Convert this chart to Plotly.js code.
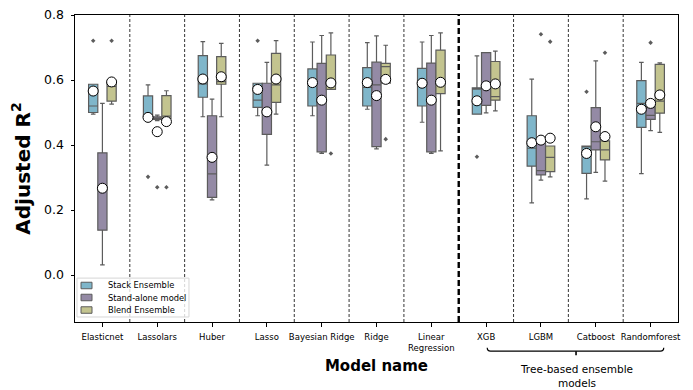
<!DOCTYPE html>
<html>
<head>
<meta charset="utf-8">
<script src="https://cdn.plot.ly/plotly-3.0.1.min.js"></script>
<style>html,body{margin:0;padding:0;background:#fff;}#chart{width:693px;height:390px;}</style>
</head>
<body>
<div id="chart"></div>
<script>
// ---- Data ----
const models = ["Elasticnet","Lassolars","Huber","Lasso","Bayesian Ridge","Ridge","Linear<br>Regression","XGB","LGBM","Catboost","Randomforest"];
const groupNames = ["Stack Ensemble","Stand-alone model","Blend Ensemble"];

const stackQ1     = [0.500,0.487,0.547,0.516,0.520,0.520,0.520,0.495,0.335,0.313,0.454];
const stackMedian = [0.520,0.494,0.588,0.538,0.590,0.577,0.590,0.572,0.390,0.395,0.528];
const stackQ3     = [0.587,0.551,0.675,0.590,0.634,0.638,0.636,0.576,0.490,0.397,0.598];
const stackLow    = [0.495,0.487,0.487,0.490,0.490,0.510,0.470,0.495,0.222,0.234,0.312];
const stackHigh   = [0.587,0.585,0.718,0.590,0.717,0.715,0.717,0.674,0.603,0.397,0.654];
const stackMean   = [0.566,0.485,0.603,0.571,0.592,0.592,0.590,0.536,0.407,0.374,0.510];
const stackOut    = [[0.721],[0.302],[],[0.721],[],[],[],[0.364],[],[0.564],[]];

const aloneQ1     = [0.138,0.479,0.239,0.433,0.379,0.395,0.379,0.522,0.308,0.385,0.479];
const aloneMedian = [0.259,0.483,0.311,0.505,0.540,0.585,0.540,0.580,0.321,0.410,0.491];
const aloneQ3     = [0.376,0.487,0.490,0.590,0.651,0.655,0.652,0.684,0.405,0.515,0.515];
const aloneLow    = [0.031,0.475,0.231,0.338,0.374,0.388,0.374,0.499,0.292,0.316,0.444];
const aloneHigh   = [0.528,0.492,0.541,0.654,0.737,0.736,0.737,0.684,0.405,0.659,0.515];
const aloneMean   = [0.267,0.441,0.362,0.502,0.538,0.552,0.538,0.582,0.415,0.456,0.528];
const aloneOut    = [[],[0.270],[],[],[],[],[],[],[0.741],[],[0.715]];

const blendQ1     = [0.535,0.482,0.587,0.531,0.571,0.590,0.558,0.538,0.318,0.354,0.498];
const blendMedian = [0.580,0.489,0.595,0.585,0.585,0.641,0.590,0.549,0.362,0.385,0.535];
const blendQ3     = [0.592,0.552,0.672,0.682,0.677,0.651,0.692,0.657,0.397,0.413,0.648];
const blendLow    = [0.526,0.482,0.487,0.495,0.571,0.590,0.382,0.505,0.302,0.289,0.439];
const blendHigh   = [0.592,0.567,0.713,0.721,0.745,0.707,0.745,0.689,0.397,0.413,0.653];
const blendMean   = [0.594,0.472,0.610,0.603,0.591,0.602,0.593,0.588,0.421,0.426,0.554];
const blendOut    = [[0.721],[0.270],[],[],[0.374],[0.418],[],[],[0.718],[0.684],[]];

// ---- Styling ----
const fills = ["#7fb6ca","#948aa5","#c3c48f"];
const edge = "#5c5c5c";
const boxW = 0.168;
const offsets = [-boxW, 0, boxW];
const FONT = "DejaVu Sans, Liberation Sans, sans-serif";

const groups = [
  {q1:stackQ1, med:stackMedian, q3:stackQ3, lo:stackLow, hi:stackHigh, mean:stackMean, out:stackOut},
  {q1:aloneQ1, med:aloneMedian, q3:aloneQ3, lo:aloneLow, hi:aloneHigh, mean:aloneMean, out:aloneOut},
  {q1:blendQ1, med:blendMedian, q3:blendQ3, lo:blendLow, hi:blendHigh, mean:blendMean, out:blendOut}
];

const traces = [];
groups.forEach((g, gi) => {
  const xs = models.map((m, i) => i + offsets[gi]);
  traces.push({
    type: "box", name: groupNames[gi], x: xs,
    q1: g.q1, median: g.med, q3: g.q3, lowerfence: g.lo, upperfence: g.hi,
    width: boxW, whiskerwidth: 0.5,
    fillcolor: fills[gi], line: {color: edge, width: 1.2},
    boxpoints: false, hoverinfo: "skip", showlegend: false
  });
});
groups.forEach((g, gi) => {
  const ox = [], oy = [];
  g.out.forEach((arr, i) => arr.forEach(v => { ox.push(i + offsets[gi]); oy.push(v); }));
  traces.push({
    type: "scatter", mode: "markers", x: ox, y: oy, showlegend: false, hoverinfo: "skip",
    marker: {symbol: "diamond", size: 3.5, color: edge}
  });
});
groups.forEach((g, gi) => {
  traces.push({
    type: "scatter", mode: "markers", x: models.map((m, i) => i + offsets[gi]), y: g.mean,
    showlegend: false, hoverinfo: "skip",
    marker: {symbol: "circle", size: 10, color: "white", line: {color: "black", width: 1}}
  });
});

// separators between categories
const shapes = [];
for (let i = 0; i < models.length - 1; i++) {
  const thick = (i === 6);
  shapes.push({type: "line", xref: "x", yref: "paper", x0: i + 0.5, x1: i + 0.5, y0: 0, y1: 1,
    line: {color: "black", width: thick ? 2.4 : 0.8, dash: thick ? "6px,3px" : "3px,2px"}, layer: "below"});
}
// bracket under tree-based models
const bx0 = 7.02, bx1 = 10.24, bc = 8.64;
shapes.push({type: "path", xref: "x", yref: "paper",
  path: `M ${bx0},-0.084 Q ${bx0},-0.095 ${bx0+0.06},-0.095 L ${bx1-0.06},-0.095 Q ${bx1},-0.095 ${bx1},-0.084`,
  line: {color: "black", width: 1.2}});
shapes.push({type: "line", xref: "x", yref: "paper", x0: bc, x1: bc, y0: -0.095, y1: -0.108,
  line: {color: "black", width: 1.6}});

// hand-drawn legend (matplotlib-style compact legend)
const annotations = [];
shapes.push({type: "rect", xref: "paper", yref: "paper", x0: 0.0033, x1: 0.189, y0: 0.0163, y1: 0.143,
  fillcolor: "rgba(255,255,255,0.8)", line: {color: "#d6d6d6", width: 1}, layer: "above"});
const rowY = [0.1189, 0.0798, 0.039];
groupNames.forEach((name, gi) => {
  shapes.push({type: "rect", xref: "paper", yref: "paper", x0: 0.0100, x1: 0.0282,
    y0: rowY[gi] - 0.0106, y1: rowY[gi] + 0.0106,
    fillcolor: fills[gi], line: {color: edge, width: 1}, layer: "above"});
  annotations.push({xref: "paper", yref: "paper", x: 0.052, y: rowY[gi], xanchor: "left", yanchor: "middle",
    text: name, showarrow: false, font: {size: 8.3, family: FONT}});
});
annotations.push({
  xref: "x", yref: "paper", x: bc, y: -0.127, xanchor: "center", yanchor: "top",
  text: "Tree-based ensemble<br>models", showarrow: false, font: {size: 10.5, family: FONT}
});

const layout = {
  width: 693, height: 390,
  margin: {l: 75, r: 15, t: 15, b: 68},
  paper_bgcolor: "white", plot_bgcolor: "white",
  font: {family: FONT, color: "black"},
  showlegend: false,
  xaxis: {
    range: [-0.5, 10.5], tickmode: "array", tickvals: models.map((m, i) => i), ticktext: models,
    tickfont: {size: 8.5, family: FONT}, ticks: "outside", ticklen: 3.5, tickcolor: "black",
    ticklabelstandoff: 3,
    showline: true, mirror: true, linecolor: "black", linewidth: 1, showgrid: false, zeroline: false,
    automargin: false,
    title: {text: "<b>Model name</b>", font: {size: 15, family: FONT}, standoff: 8}
  },
  yaxis: {
    range: [-0.1446, 0.8], tick0: 0, dtick: 0.2, tickformat: ".1f",
    tickfont: {size: 12.5, family: FONT}, ticks: "outside", ticklen: 3.5, tickcolor: "black",
    ticklabelstandoff: 4,
    showline: true, mirror: true, linecolor: "black", linewidth: 1, showgrid: false, zeroline: false,
    automargin: false,
    title: {text: "<b>Adjusted R<sup>2</sup></b>", font: {size: 20, family: FONT}, standoff: 8}
  },
  shapes: shapes,
  annotations: annotations
};

Plotly.newPlot("chart", traces, layout, {displayModeBar: false, staticPlot: true});
</script>
</body>
</html>
